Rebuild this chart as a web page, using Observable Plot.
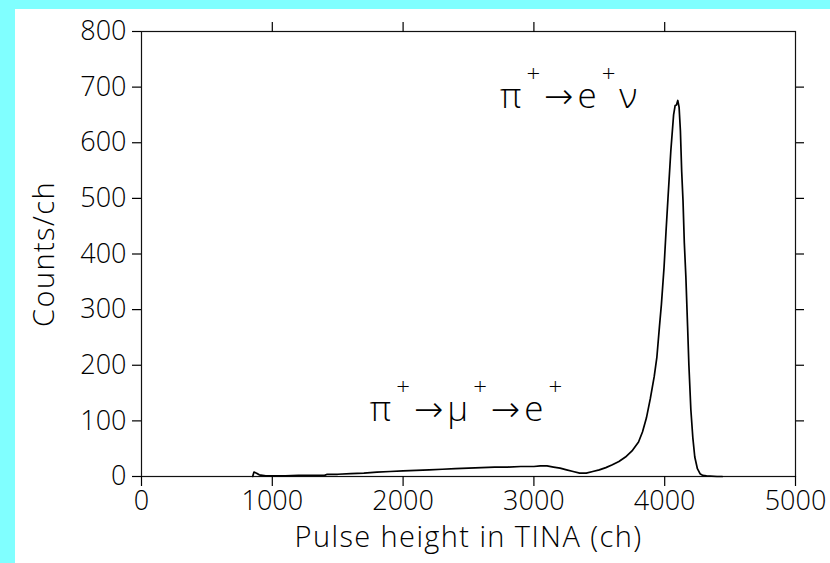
<!DOCTYPE html>
<html><head><meta charset="utf-8">
<script src="https://cdn.jsdelivr.net/npm/d3@7"></script>
<script src="https://cdn.jsdelivr.net/npm/@observablehq/plot@0.6"></script>
<style>
html,body{margin:0;padding:0;background:#80ffff;width:830px;height:563px;overflow:hidden}
#chart{position:absolute;left:15px;top:9px;width:815px;height:554px;background:#fff}
#chart svg text{font-weight:300}
</style></head><body><div id="chart"></div>
<script>
// Pulse height (ch) and counts per channel
const channel = [850, 860, 880, 900, 950, 1000, 1100, 1200, 1300, 1400, 1420, 1500, 1600, 1700, 1800, 1900, 2000, 2100, 2200, 2300, 2400, 2500, 2600, 2700, 2800, 2900, 3000, 3050, 3100, 3150, 3200, 3250, 3300, 3350, 3400, 3450, 3500, 3550, 3600, 3650, 3700, 3750, 3800, 3830, 3860, 3890, 3920, 3940, 3960, 3975, 3995, 4010, 4025, 4047, 4068, 4080, 4090, 4100, 4110, 4120, 4130, 4140, 4150, 4162, 4175, 4185, 4200, 4215, 4230, 4250, 4270, 4290, 4320, 4400, 4440];
const counts  = [0, 8, 6, 3, 1, 1, 1, 2, 2, 2, 4, 4, 5, 6, 8, 9, 10, 11, 12, 13, 14, 15, 16, 17, 17, 18, 18, 19, 19, 17, 15, 12, 9, 6, 6, 9, 12, 16, 21, 27, 35, 46, 62, 80, 105, 140, 180, 214, 270, 310, 376, 440, 500, 586, 650, 667, 668, 676, 664, 622, 548, 496, 420, 358, 270, 200, 120, 70, 35, 14, 5, 2, 1, 0, 0];

const xTicks = [0, 1000, 2000, 3000, 4000, 5000];
const xTopTicks = [1000, 2000, 3000, 4000];
const yTicks = [0, 100, 200, 300, 400, 500, 600, 700, 800];
const yRightTicks = [100, 200, 300, 400, 500, 600, 700];

const xTitle = "Pulse height in TINA (ch)";
const yTitle = "Counts/ch";

// Annotations ("+" is drawn as a superscript)
const annText = ["π+→e+ν", "π+→μ+→e+"];
const annX = [2710, 1715];
const annY = [663, 99];

const data = channel.map((c, i) => ({ch: c, n: counts[i]}));
const ann = annText.map((t, i) => ({t, x: annX[i], y: annY[i]}));

const font = "'Open Sans', 'DejaVu Sans', sans-serif";

const plot = Plot.plot({
  width: 815, height: 554,
  marginLeft: 126, marginRight: 35, marginTop: 22, marginBottom: 87,
  style: {background: "white", fontFamily: font, color: "black", overflow: "visible"},
  x: {domain: [0, 5000]},
  y: {domain: [0, 800]},
  marks: [
    Plot.frame({stroke: "#111", strokeWidth: 1.2}),
    Plot.axisX({anchor: "bottom", ticks: xTicks, tickSize: 10, tickPadding: 4, fontSize: 27, tickFormat: d => String(d), label: null, strokeWidth: 1.2}),
    Plot.axisX({anchor: "top", ticks: xTopTicks, tickSize: 10, tickFormat: () => "", label: null, strokeWidth: 1.2}),
    Plot.axisY({anchor: "left", ticks: yTicks, tickSize: 9, tickPadding: 6, fontSize: 27, tickFormat: d => String(d), label: null, strokeWidth: 1.2}),
    Plot.axisY({anchor: "right", ticks: yRightTicks, tickSize: 8, tickFormat: () => "", label: null, strokeWidth: 1.2}),
    Plot.line(data, {x: "ch", y: "n", stroke: "black", strokeWidth: 1.7, curve: "linear"}),
    Plot.text(ann, {x: "x", y: "y", text: "t", textAnchor: "start", lineAnchor: "bottom", fontSize: 35, fill: "black"}),
    Plot.text([xTitle], {frameAnchor: "bottom", dy: 70, fontSize: 29, fill: "black"}),
    Plot.text([yTitle], {frameAnchor: "left", textAnchor: "middle", dx: -97, rotate: -90, fontSize: 29, fill: "black"})
  ]
});

// letter spacing of the axis titles
d3.select(plot).selectAll("text").filter(function() { return this.textContent === xTitle || this.textContent === yTitle; })
  .style("letter-spacing", "1.4px");

// superscript "+" in annotations
d3.select(plot).selectAll("text").filter(function() { return this.textContent.includes("→"); }).each(function() {
  const s = this.textContent;
  const el = d3.select(this);
  el.text("");
  let raised = false;
  for (const ch of s) {
    const t = el.append("tspan").text(ch);
    if (ch === "+") {
      t.attr("font-size", 24).attr("dx", 5);
      if (!raised) { t.attr("dy", -26); raised = true; }
    } else {
      t.attr("dx", 4);
      if (raised) { t.attr("dy", 26); raised = false; }
    }
  }
});

document.getElementById("chart").appendChild(plot);
</script>
</body></html>
